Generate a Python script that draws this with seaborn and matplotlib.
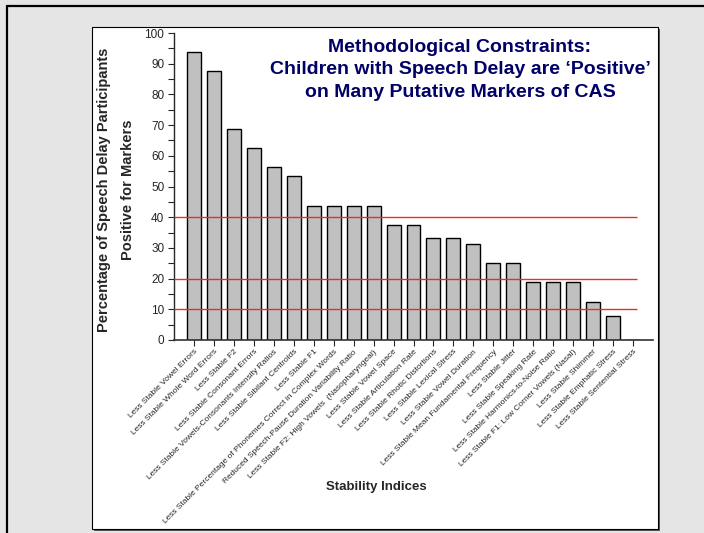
import matplotlib
matplotlib.use("Agg")
import matplotlib.pyplot as plt
import seaborn as sns
from matplotlib.patches import Rectangle
from matplotlib.lines import Line2D
from matplotlib.ticker import MultipleLocator

# Stability indices and percent of speech delay participants positive for each
indices = [
    "Less Stable Vowel Errors",
    "Less Stable Whole Word Errors",
    "Less Stable F2",
    "Less Stable Consonant Errors",
    "Less Stable Vowels-Consonants Intensity Ratios",
    "Less Stable Sibilant Centroids",
    "Less Stable F1",
    "Less Stable Percentage of Phonemes Correct in Complex Words",
    "Reduced Speech-Pause Duration Variability Ratio",
    "Less Stable F2: High Vowels  (Nasopharyngeal)",
    "Less Stable Vowel Space",
    "Less Stable Articulation Rate",
    "Less Stable Rhotic Distortions",
    "Less Stable Lexical Stress",
    "Less Stable Vowel Duration",
    "Less Stable Mean Fundamental Frequency",
    "Less Stable Jitter",
    "Less Stable Speaking Rate",
    "Less Stable Harmonics-to-Noise Ratio",
    "Less Stable F1: Low Corner Vowels (Nasal)",
    "Less Stable Shimmer",
    "Less Stable Emphatic Stress",
    "Less Stable Sentential Stress",
]
percent_positive = [93.75, 87.5, 68.75, 62.5, 56.25, 53.33, 43.75, 43.75, 43.75, 43.75,
                    37.5, 37.5, 33.33, 33.33, 31.25, 25.0, 25.0, 18.75, 18.75, 18.75,
                    12.5, 7.69, 0.0]
cutoffs = [40, 20, 10]

title_text = ("Methodological Constraints:\n"
              "Children with Speech Delay are \u2018Positive\u2019\n"
              "on Many Putative Markers of CAS")
ylabel_text = "Percentage of Speech Delay Participants\nPositive for Markers"
xlabel_text = "Stability Indices"

sns.set_style("ticks")
plt.rcParams["font.family"] = ["Liberation Sans", "DejaVu Sans"]

W, H = 704, 533
fig = plt.figure(figsize=(W / 100, H / 100), dpi=100)
fig.patch.set_facecolor("#e5e5e5")

# white panel with a dark shadow edge, kept behind the axes
fig.patches.append(Rectangle((94 / W, 1 - 531 / H), 566 / W, 502 / H, transform=fig.transFigure,
                             facecolor="#555555", edgecolor="none", zorder=-3))
fig.patches.append(Rectangle((92 / W, 1 - 529 / H), 566 / W, 502 / H, transform=fig.transFigure,
                             facecolor="white", edgecolor="black", linewidth=0.8, zorder=-2))
# outer frame lines (left and top)
fig.lines.append(Line2D([7 / W, 7 / W], [0, 1 - 6 / H], transform=fig.transFigure,
                        color="black", linewidth=1.6, zorder=-2))
fig.lines.append(Line2D([7 / W, 1], [1 - 6 / H, 1 - 6 / H], transform=fig.transFigure,
                        color="black", linewidth=1.6, zorder=-2))

ax = fig.add_axes([174 / W, 1 - 340 / H, 479 / W, 307 / H])
ax.set_facecolor("none")

sns.barplot(x=indices, y=percent_positive, color="#c0c0c0", saturation=1, width=0.7,
            edgecolor="black", linewidth=1.0, ax=ax, zorder=2)

ax.hlines(cutoffs, -1, 22.2, colors="#f02a2a", linewidth=1.0, zorder=3)

ax.set_xlim(-1, 23)
ax.set_ylim(0, 100)
ax.yaxis.set_major_locator(MultipleLocator(10))
ax.yaxis.set_minor_locator(MultipleLocator(5))
ax.tick_params(axis="y", which="major", length=4, width=0.8, labelsize=8.5, pad=3)
ax.tick_params(axis="y", which="minor", length=4, width=0.8)
ax.tick_params(axis="x", length=4, width=0.8, pad=2)
ax.set_xticks(range(len(indices)))
ax.set_xticklabels(indices, rotation=45, ha="right", rotation_mode="anchor", fontsize=6)

for side in ["top", "right"]:
    ax.spines[side].set_visible(False)
ax.spines["left"].set_linewidth(1.0)
ax.spines["bottom"].set_linewidth(1.2)
ax.spines["bottom"].set_color("#333333")

ax.set_xlabel("")
ax.set_ylabel("")
fig.text(376 / W, 1 - 487 / H, xlabel_text, ha="center", va="center",
         fontsize=9.5, fontweight="bold")
fig.text(116 / W, 1 - 190 / H, ylabel_text, ha="center", va="center", rotation=90,
         fontsize=10.5, fontweight="bold", linespacing=1.9)
fig.text(460 / W, 1 - 70 / H, title_text, ha="center", va="center",
         fontsize=14, fontweight="bold", color="#000066", linespacing=1.4)

fig.savefig("out.png", dpi=100, facecolor=fig.get_facecolor())
